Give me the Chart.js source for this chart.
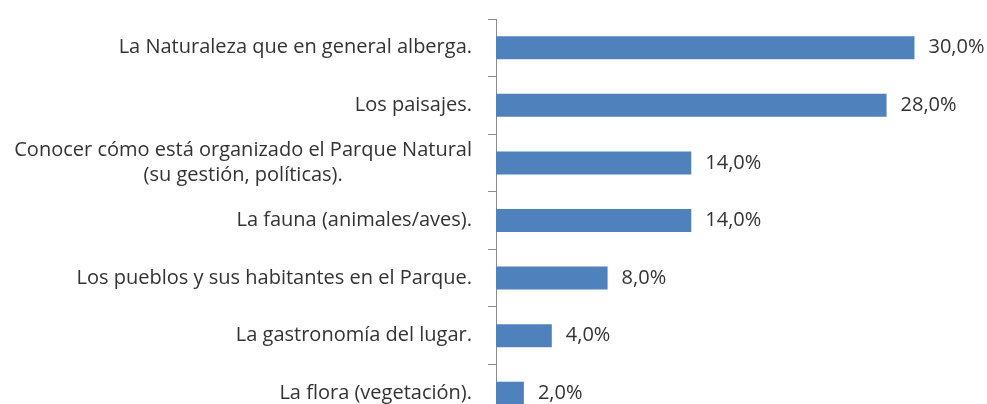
<!DOCTYPE html>
<html>
<head>
    <title>Aspectos de interés del Parque Natural</title>
    <script src="https://cdn.jsdelivr.net/npm/chart.js"></script>
    <style>
        html, body { margin: 0; padding: 0; overflow: hidden; background: #fff; }
    </style>
</head>
<body>
    <canvas id="barChart" width="987" height="422"></canvas>

    <script>
        // Categories (multi-line where the original wraps) and their percentages
        const categories = [
            ['La Naturaleza que en general alberga.'],
            ['Los paisajes.'],
            ['Conocer cómo está organizado el Parque Natural', '(su gestión, políticas).'],
            ['La fauna (animales/aves).'],
            ['Los pueblos y sus habitantes en el Parque.'],
            ['La gastronomía del lugar.'],
            ['La flora (vegetación).']
        ];
        const percentages = [30, 28, 14, 14, 8, 4, 2];

        const FONT = '20px "Open Sans"';
        const TEXT_COLOR = '#333333';
        const AXIS_COLOR = '#8c8c8c';

        function formatPct(v) {
            return v.toFixed(1).replace('.', ',') + '%';
        }

        // Draws the category labels (centred block, right edge next to the axis) and the value labels
        const labelPlugin = {
            id: 'labelPlugin',
            afterDatasetsDraw(chart) {
                const ctx = chart.ctx;
                const yScale = chart.scales.y;
                const labelRight = yScale.right - 24;
                const lineHeight = 25;
                ctx.save();
                ctx.font = FONT;
                ctx.fillStyle = TEXT_COLOR;
                ctx.textBaseline = 'middle';
                ctx.textAlign = 'center';
                categories.forEach((lines, i) => {
                    const y = yScale.getPixelForValue(i);
                    const maxW = Math.max(...lines.map(l => ctx.measureText(l).width));
                    const cx = labelRight - maxW / 2;
                    lines.forEach((line, j) => {
                        ctx.fillText(line, cx, y + (j - (lines.length - 1) / 2) * lineHeight);
                    });
                });

                ctx.textAlign = 'left';
                chart.getDatasetMeta(0).data.forEach((bar, i) => {
                    ctx.fillText(formatPct(percentages[i]), bar.x + 14, bar.y);
                });
                ctx.restore();
            }
        };

        const ctx = document.getElementById('barChart').getContext('2d');
        new Chart(ctx, {
            type: 'bar',
            data: {
                labels: categories.map(c => c.join(' ')),
                datasets: [{
                    data: percentages,
                    backgroundColor: '#4F81BD',
                    borderWidth: 0,
                    barPercentage: 0.4,
                    categoryPercentage: 1.0
                }]
            },
            options: {
                responsive: false,
                animation: false,
                indexAxis: 'y',
                layout: { padding: { top: 19, right: 0, bottom: 0, left: 0 } },
                scales: {
                    x: {
                        display: false,
                        min: 0,
                        max: 35.2
                    },
                    y: {
                        ticks: { display: false },
                        afterFit: scale => { scale.width = 496; },
                        grid: {
                            offset: true,
                            drawOnChartArea: false,
                            drawTicks: true,
                            tickLength: 8,
                            color: AXIS_COLOR
                        },
                        border: { color: AXIS_COLOR, width: 1 }
                    }
                },
                plugins: {
                    legend: { display: false },
                    tooltip: { enabled: false }
                }
            },
            plugins: [labelPlugin]
        });
    </script>
</body>
</html>
